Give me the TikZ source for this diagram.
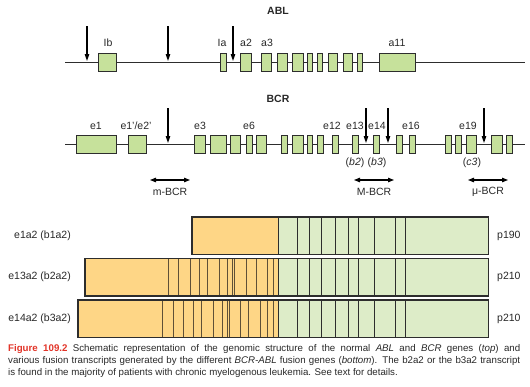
\documentclass[tikz,border=0pt]{standalone}
\usepackage{fontspec}
\setmainfont{Liberation Sans}
\usetikzlibrary{arrows.meta}
\definecolor{exongreen}{RGB}{198,225,155}
\definecolor{bargreen}{RGB}{221,236,200}
\definecolor{barorange}{RGB}{254,214,134}
\definecolor{capred}{RGB}{226,52,40}
\definecolor{outl}{RGB}{45,45,45}
\definecolor{txt}{RGB}{40,40,40}
\definecolor{odivc}{RGB}{95,80,55}
\begin{document}
\begin{tikzpicture}[x=1pt,y=-1pt,
  exon/.style={draw=outl, fill=exongreen, line width=0.9pt, inner sep=0pt, minimum height=18pt},
  gene/.style={draw=outl, line width=0.9pt},
  brk/.style={-{Triangle[length=7pt,width=4.5pt]}, line width=1.1pt, black},
  region/.style={{Triangle[length=6pt,width=4.5pt]}-{Triangle[length=6pt,width=4.5pt]}, line width=1.1pt, black},
  lbl/.style={font=\fontsize{10.5}{12}\selectfont, inner sep=0pt, text=txt},
  ttl/.style={font=\fontsize{10.5}{12}\selectfont\bfseries, inner sep=0pt, text=txt},
  barpart/.style={inner sep=0pt, minimum height=37pt, draw=none},
  barout/.style={draw=outl, line width=1.3pt},
  odiv/.style={draw=odivc, line width=0.7pt},
  gdiv/.style={draw=outl, line width=0.8pt}
]
\useasboundingbox (0,0) rectangle (530,386);

% ---------------- ABL ----------------
\node[ttl] (ablt) at (278,11) {ABL};
\coordinate (ablL) at (65,62);
\coordinate (ablR) at (525,62);
\draw[gene] (ablL) -- (ablR);
\foreach \n/\a/\b in {Ib/98/116, Ia/220/226, a2/240/251, a3/261/271, a4/277/287, a5/292/303,
  a6/307/312, a7/317/322, a8/328/337, a9/343/352, a10/357/362, a11/379/415}
  \node[exon, minimum width={(\b-\a)*1pt}] (abl-\n) at ({(\a+\b)/2},62) {};
\foreach \n/\x in {Ib/108, Ia/222, a2/246, a3/267, a11/397}
  \node[lbl] (ablL-\n) at (\x,43) {\n};
\foreach \i/\x in {1/87, 2/168, 3/233} {
  \coordinate (abltop\i) at (\x,26);
  \coordinate (ablbot\i) at (\x,61);
  \draw[brk] (abltop\i) -- (ablbot\i);
}

% ---------------- BCR ----------------
\node[ttl] (bcrt) at (278,99) {BCR};
\coordinate (bcrL) at (65,144);
\coordinate (bcrR) at (525,144);
\draw[gene] (bcrL) -- (bcrR);
\foreach \n/\a/\b in {e1/76/116, e2/128/146, e3/194/205, e4/210/226, e5/230/240, e6/246/252,
  e7/256/266, e8/281/287, e9/292/303, e10/307/312, e11/317/323, e12/332/338, e13/352/358,
  e14/373/379, e15/396/402, e16/409/415, e17/445/451, e18/455/461, e19/466/476,
  e20/491/502, e21/506/512}
  \node[exon, minimum width={(\b-\a)*1pt}] (bcr-\n) at ({(\a+\b)/2},144) {};
\foreach \n/\t/\x in {e1/e1/96, e2/{e1'/e2'}/136, e3/e3/200, e6/e6/249, e12/e12/332,
  e13/e13/355, e14/e14/377, e16/e16/411, e19/e19/468}
  \node[lbl] (bcrL-\n) at (\x,126) {\t};
\foreach \i/\x in {1/168, 2/366, 3/388, 4/484} {
  \coordinate (bcrtop\i) at (\x,108);
  \coordinate (bcrbot\i) at (\x,143);
  \draw[brk] (bcrtop\i) -- (bcrbot\i);
}
\node[lbl] (b2) at (355,163) {(\textit{b2})};
\node[lbl] (b3) at (377,163) {(\textit{b3})};
\node[lbl] (c3) at (472,163) {(\textit{c3})};

% regions
\coordinate (mA) at (150,180); \coordinate (mB) at (190,180);
\draw[region] (mA) -- (mB);
\node[lbl] (mlab) at (170,192) {m-BCR};
\coordinate (MA) at (354,180); \coordinate (MB) at (394,180);
\draw[region] (MA) -- (MB);
\node[lbl] (Mlab) at (374,192) {M-BCR};
\coordinate (uA) at (468,180); \coordinate (uB) at (508,180);
\draw[region] (uA) -- (uB);
\node[lbl] (ulab) at (488,192) {μ-BCR};

% ---------------- transcripts ----------------
\node[barpart, fill=barorange, minimum width=86pt, anchor=north west] (t1o) at (192,217) {};
\node[barpart, fill=bargreen, minimum width=210pt, anchor=north west] (t1g) at (278,217) {};
\node[barpart, fill=barorange, minimum width=193pt, anchor=north west] (t2o) at (85,258.5) {};
\node[barpart, fill=bargreen, minimum width=210pt, anchor=north west] (t2g) at (278,258.5) {};
\node[barpart, fill=barorange, minimum width=200pt, anchor=north west] (t3o) at (78,300) {};
\node[barpart, fill=bargreen, minimum width=210pt, anchor=north west] (t3g) at (278,300) {};

\foreach \t in {1,2,3} {
  \foreach \x in {278,297,309,321,335,348,358,374,395,405}
    \draw[gdiv] (t\t g.north west -| {\x,0}) -- (t\t g.south west -| {\x,0});
}
\foreach \x in {168,178,190,199,207,219,227,232,234,246,256,267,273}
  \draw[odiv] (t2o.north west -| {\x,0}) -- (t2o.south west -| {\x,0});
\foreach \x in {162,173,183,193,201,213,222,227,229,240,248,260,267,273}
  \draw[odiv] (t3o.north west -| {\x,0}) -- (t3o.south west -| {\x,0});
\foreach \t in {1,2,3}
  \draw[barout] (t\t o.north west) rectangle (t\t g.south east);

\node[lbl, anchor=east] (n1) at (71,235.5) {e1a2 (b1a2)};
\node[lbl, anchor=east] (n2) at (71,277) {e13a2 (b2a2)};
\node[lbl, anchor=east] (n3) at (71,318.5) {e14a2 (b3a2)};
\node[lbl, anchor=west] (p1) at (497,235.5) {p190};
\node[lbl, anchor=west] (p2) at (497,277) {p210};
\node[lbl, anchor=west] (p3) at (497,318.5) {p210};

% ---------------- caption ----------------
\node[anchor=north west, inner sep=0pt, text width=512pt, align=justify, text=txt,
  font=\fontsize{9.7}{12}\selectfont] (cap) at (8,344)
{\textcolor{capred}{\textbf{Figure 109.2}} Schematic representation of the genomic structure of the normal \textit{ABL} and \textit{BCR} genes (\textit{top}) and\linebreak
various fusion transcripts generated by the different \textit{BCR-ABL} fusion genes (\textit{bottom}). The b2a2 or the b3a2 transcript\linebreak
is found in the majority of patients with chronic myelogenous leukemia. See text for details.};
\end{tikzpicture}
\end{document}
